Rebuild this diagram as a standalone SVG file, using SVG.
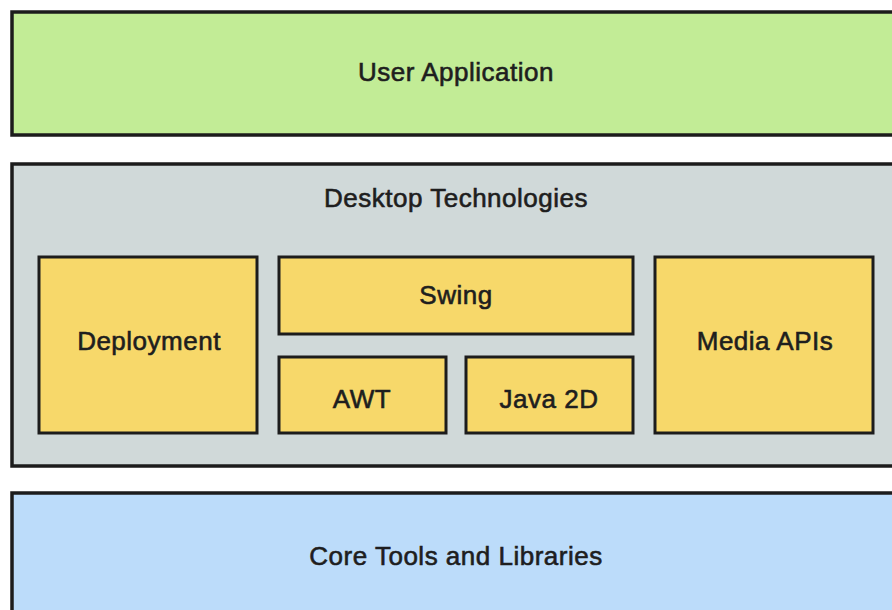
<svg xmlns="http://www.w3.org/2000/svg" width="892" height="610" viewBox="0 0 892 610">
<style>
.box{stroke:#1c1c1c;stroke-width:3}
.layer{stroke:#1c1c1c;stroke-width:3.5}
.t{font-family:"Liberation Sans",Arial,sans-serif;font-size:26px;fill:#1e1e1e;stroke:#1e1e1e;stroke-width:0.6px;text-anchor:middle;letter-spacing:0.5px}
</style>
<rect width="892" height="610" fill="#ffffff"/>
<g id="user-application">
<rect class="layer" x="12" y="12" width="900" height="123" fill="#c2ec96"/>
<text class="t" x="456" y="81">User Application</text>
</g>
<g id="desktop-technologies">
<rect class="layer" x="12" y="164" width="900" height="302" fill="#d0d9d9"/>
<text class="t" x="456" y="207">Desktop Technologies</text>
</g>
<g id="deployment">
<rect class="box" x="39" y="257" width="218" height="176" fill="#f7d86a"/>
<text class="t" x="149" y="350">Deployment</text>
</g>
<g id="swing">
<rect class="box" x="279" y="257" width="354" height="77" fill="#f7d86a"/>
<text class="t" x="456" y="304">Swing</text>
</g>
<g id="awt">
<rect class="box" x="279" y="357" width="167" height="76" fill="#f7d86a"/>
<text class="t" x="362" y="408">AWT</text>
</g>
<g id="java2d">
<rect class="box" x="466" y="357" width="167" height="76" fill="#f7d86a"/>
<text class="t" x="549" y="408">Java 2D</text>
</g>
<g id="media-apis">
<rect class="box" x="655" y="257" width="218" height="176" fill="#f7d86a"/>
<text class="t" x="765" y="350">Media APIs</text>
</g>
<g id="core-tools">
<rect class="layer" x="12" y="493" width="900" height="140" fill="#bcdcfa"/>
<text class="t" x="456" y="565">Core Tools and Libraries</text>
</g>
<g id="connectors"></g>
</svg>
